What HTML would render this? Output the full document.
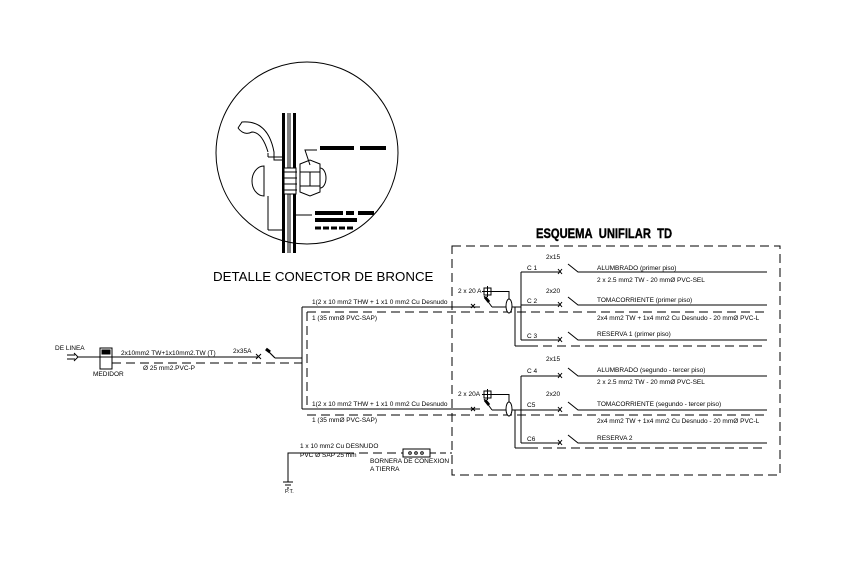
<!DOCTYPE html>
<html><head><meta charset="utf-8"><style>
html,body{margin:0;padding:0;background:#fff}
svg{display:block}
text{font-family:"Liberation Sans",sans-serif;fill:#000}
.s{font-size:6.5px}
</style></head><body>
<svg width="843" height="569" viewBox="0 0 843 569" xmlns="http://www.w3.org/2000/svg">
<g fill="none" stroke="#000" stroke-width="1">
<circle cx="307" cy="153" r="91"/>
<rect x="282" y="113" width="3" height="140" fill="#000" stroke="none"/>
<rect x="293" y="113" width="3" height="140" fill="#000" stroke="none"/>
<line x1="288" y1="113" x2="288" y2="253"/>
<line x1="290" y1="113" x2="290" y2="253"/>
<path d="M238 128 L242 122 Q268 120 274 152 L274 160 L282 160"/>
<path d="M238 128 Q244 136 252 132 Q262 132 268 152"/>
<path d="M268 153 L268 157"/>
<line x1="268" y1="157" x2="282" y2="157"/>
<path d="M264 166 A 12 15 0 0 0 264 196 Z"/>
<line x1="268" y1="196" x2="268" y2="230"/><line x1="268" y1="230" x2="282" y2="230"/>
<rect x="284" y="168" width="12" height="26" fill="#fff"/>
<path d="M283 172 h14 M283 178 h14 M283 184 h14 M283 190 h14"/>
<path d="M300 164 L310 160 L320 164 L320 192 L310 196 L300 192 Z" fill="#fff"/>
<path d="M300 172 L320 172 M300 186 L320 186 M310 172 L310 186"/>
<path d="M320 168 A 6 10 0 0 1 320 188"/>
<path d="M310 165 L305 150 L317 150"/>
<rect x="320" y="146" width="32" height="4" fill="#000" stroke="none"/>
<rect x="346" y="146" width="8" height="4" fill="#000" stroke="none"/>
<rect x="360" y="146" width="26" height="4" fill="#000" stroke="none"/>
<path d="M296 215 L312 215"/>
<rect x="315" y="211" width="28" height="4" fill="#000" stroke="none"/>
<rect x="346" y="211" width="8" height="4" fill="#000" stroke="none"/>
<rect x="358" y="211" width="16" height="4" fill="#000" stroke="none"/>
<rect x="315" y="218" width="42" height="4" fill="#000" stroke="none"/>
<path d="M315 228 h40" stroke-width="3" stroke-dasharray="6 2"/>

<rect x="452" y="246" width="328" height="229" stroke-dasharray="9 5"/>

<path d="M67 355 h8 M67 359 h8 M74 353 l4 4 l-4 4"/>
<line x1="78" y1="357" x2="100" y2="357"/>
<rect x="100" y="348" width="12" height="21"/>
<rect x="102" y="350" width="8" height="4" fill="#000"/>
<line x1="100" y1="357" x2="112" y2="357"/>
<line x1="112" y1="357" x2="258" y2="357"/>
<path d="M256 354 l5 5 M261 354 l-5 5"/>
<line x1="112" y1="363" x2="302" y2="363" stroke-dasharray="9 5"/>
<line x1="266" y1="349" x2="275" y2="358" stroke-width="1.2"/>
<path d="M266 349 l4 3" stroke-width="3"/>
<line x1="275" y1="358" x2="302" y2="358"/>

<line x1="302" y1="307" x2="302" y2="409"/>
<line x1="302" y1="307" x2="480" y2="307"/>
<line x1="302" y1="409" x2="480" y2="409"/>
<line x1="307" y1="312" x2="307" y2="407" stroke-dasharray="9 5"/>
<line x1="307" y1="312" x2="767" y2="312" stroke-dasharray="9 5"/>
<line x1="307" y1="415" x2="767" y2="415" stroke-dasharray="9 5"/>
<line x1="515" y1="346" x2="767" y2="346" stroke-dasharray="9 5"/>
<line x1="515" y1="448" x2="767" y2="448" stroke-dasharray="9 5"/>

<g>
<path d="M471 304 l4 4 M471 308 l4 -4"/>
<line x1="484" y1="296" x2="492" y2="307"/>
<path d="M485 297 l4 5" stroke-width="3"/>
<rect x="484" y="288" width="7" height="7"/>
<path d="M487.5 286 v11 M482 291.5 h11"/>
<path d="M491 291.5 H509 V299"/>
<line x1="492" y1="307" x2="521" y2="307"/>
<ellipse cx="509" cy="306" rx="3" ry="7" fill="#fff"/>
</g>
<g transform="translate(0,103)">
<path d="M471 304 l4 4 M471 308 l4 -4"/>
<line x1="484" y1="296" x2="492" y2="307"/>
<path d="M485 297 l4 5" stroke-width="3"/>
<rect x="484" y="288" width="7" height="7"/>
<path d="M487.5 286 v11 M482 291.5 h11"/>
<path d="M491 291.5 H509 V299"/>
<line x1="492" y1="307" x2="521" y2="307"/>
<ellipse cx="509" cy="306" rx="3" ry="7" fill="#fff"/>
</g>
<line x1="521" y1="272" x2="521" y2="340"/>
<line x1="515" y1="307" x2="515" y2="346"/>
<line x1="515" y1="346" x2="530" y2="346"/>
<line x1="521" y1="376" x2="521" y2="443"/>
<line x1="515" y1="410" x2="515" y2="448"/>
<line x1="515" y1="448" x2="530" y2="448"/>

<g transform="translate(0,272)"><path d="M521 0 H561 M558 -3 l4 5 M558 2 l4 -5 M568 -8 L578 0 H767"/></g>
<g transform="translate(0,305)"><path d="M521 0 H561 M558 -3 l4 5 M558 2 l4 -5 M568 -8 L578 0 H767"/></g>
<g transform="translate(0,340)"><path d="M521 0 H561 M558 -3 l4 5 M558 2 l4 -5 M568 -8 L578 0 H767"/></g>
<g transform="translate(0,376)"><path d="M521 0 H561 M558 -3 l4 5 M558 2 l4 -5 M568 -8 L578 0 H767"/></g>
<g transform="translate(0,410)"><path d="M521 0 H561 M558 -3 l4 5 M558 2 l4 -5 M568 -8 L578 0 H767"/></g>
<g transform="translate(0,443)"><path d="M521 0 H561 M558 -3 l4 5 M558 2 l4 -5 M568 -8 L578 0 H767"/></g>

<path d="M288 482 V453 H345"/>
<line x1="345" y1="453" x2="403" y2="453" stroke-dasharray="9 5"/>
<rect x="403" y="449" width="27" height="8"/>
<circle cx="410" cy="453" r="1.3"/><circle cx="416" cy="453" r="1.3"/><circle cx="422" cy="453" r="1.3"/>
<line x1="430" y1="453" x2="452" y2="453" stroke-dasharray="6 4"/>
<path d="M283 482 h10 M285 485 h6 M287 488 h2"/>
</g>

<text x="213" y="281" font-size="13.3">DETALLE CONECTOR DE BRONCE</text>
<text x="536" y="238" font-size="14" font-weight="bold" stroke="#000" stroke-width="0.4" transform="translate(536 0) scale(0.8 1) translate(-536 0)">ESQUEMA&#160; UNIFILAR&#160; TD</text>

<g class="s">
<text x="55" y="350">DE LINEA</text>
<text x="93" y="376">MEDIDOR</text>
<text x="121" y="355">2x10mm2 TW+1x10mm2.TW  (T)</text>
<text x="143" y="370">Ø 25 mm2.PVC-P</text>
<text x="233" y="353">2x35A</text>
<text x="312" y="304">1(2 x 10 mm2 THW + 1 x1 0 mm2 Cu Desnudo</text>
<text x="312" y="320">1 (35 mmØ PVC-SAP)</text>
<text x="312" y="406">1(2 x 10 mm2 THW + 1 x1 0 mm2 Cu Desnudo</text>
<text x="312" y="422">1 (35 mmØ PVC-SAP)</text>
<text x="458" y="293">2 x 20 A</text>
<text x="458" y="396">2 x 20A</text>
<text x="300" y="448">1 x 10 mm2 Cu DESNUDO</text>
<text x="300" y="457">PVC Ø SAP 25 mm</text>
<text x="370" y="463">BORNERA DE CONEXION</text>
<text x="370" y="471">A TIERRA</text>
<text x="285" y="493" font-size="5.5">P.T.</text>

<text x="546" y="259">2x15</text>
<text x="527" y="270">C 1</text>
<text x="597" y="270">ALUMBRADO (primer piso)</text>
<text x="597" y="282">2 x 2.5 mm2 TW - 20 mmØ PVC-SEL</text>
<text x="546" y="293">2x20</text>
<text x="527" y="303">C 2</text>
<text x="597" y="302">TOMACORRIENTE (primer piso)</text>
<text x="597" y="320">2x4 mm2 TW + 1x4 mm2 Cu Desnudo - 20 mmØ PVC-L</text>
<text x="527" y="338">C 3</text>
<text x="597" y="336">RESERVA 1 (primer piso)</text>
<text x="546" y="361">2x15</text>
<text x="527" y="373">C 4</text>
<text x="597" y="372">ALUMBRADO (segundo - tercer piso)</text>
<text x="597" y="384">2 x 2.5 mm2 TW - 20 mmØ PVC-SEL</text>
<text x="546" y="396">2x20</text>
<text x="527" y="407">C5</text>
<text x="597" y="406">TOMACORRIENTE (segundo - tercer piso)</text>
<text x="597" y="423">2x4 mm2 TW + 1x4 mm2 Cu Desnudo - 20 mmØ PVC-L</text>
<text x="527" y="441">C6</text>
<text x="597" y="440">RESERVA 2</text>
</g>
</svg>
</body></html>
